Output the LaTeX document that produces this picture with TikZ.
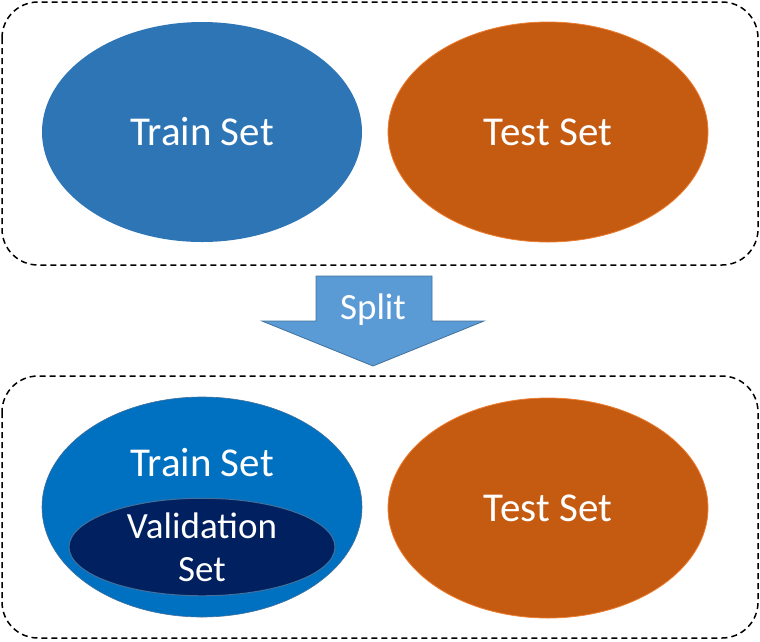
\documentclass[tikz,border=0pt]{standalone}
\usepackage{fontspec}
\setmainfont{Carlito}
\usepackage{tikz}
\usetikzlibrary{shapes.geometric}
\definecolor{trainblue}{HTML}{2E75B6}
\definecolor{trainbright}{HTML}{0070C0}
\definecolor{testorange}{HTML}{C55A11}
\definecolor{testedge}{HTML}{ED7D31}
\definecolor{valnavy}{HTML}{002060}
\definecolor{splitfill}{HTML}{5B9BD5}
\definecolor{splitedge}{HTML}{41719C}

\tikzset{
  setshape/.style={ellipse, inner sep=0pt, minimum width=320pt, minimum height=220pt,
    text=white, font=\fontsize{41}{47}\selectfont},
  groupbox/.style={draw, line width=1.5pt, dash pattern=on 6pt off 4pt, rounded corners=36pt}
}

\begin{document}
\begin{tikzpicture}[x=1pt,y=-1pt]
  \useasboundingbox (0,0) rectangle (760,641);
  % dashed group boxes
  \draw[groupbox] (2,2) rectangle (758,265);
  \draw[groupbox] (2,376) rectangle (758,638);
  % before split
  \node[setshape, fill=trainblue] (train1) at (202,132) {Train Set};
  \node[setshape, fill=testorange, draw=testedge, line width=0.8pt] (test1) at (548,132) {Test Set};
  % split arrow
  \coordinate (S1) at (316,276);
  \coordinate (S2) at (432,276);
  \coordinate (S3) at (432,321);
  \coordinate (S4) at (484,321);
  \coordinate (S5) at (373,366);
  \coordinate (S6) at (262,321);
  \coordinate (S7) at (316,321);
  \draw[fill=splitfill, draw=splitedge, line width=0.8pt] (S1)--(S2)--(S3)--(S4)--(S5)--(S6)--(S7)--cycle;
  \node[text=white, font=\fontsize{37}{42}\selectfont] (split) at (373,310) {Split};
  % after split
  \node[setshape, fill=trainbright, draw=splitedge, line width=0.6pt] (train2) at (202,507) {};
  \node[text=white, font=\fontsize{41}{47}\selectfont] (trainlbl) at (202,463) {Train Set};
  \node[ellipse, inner sep=0pt, minimum width=266pt, minimum height=97pt,
    fill=valnavy, draw=splitedge, line width=1pt, text=white, align=center,
    font=\fontsize{37}{43}\selectfont] (val) at (202,547) {Validation\\Set};
  \node[setshape, fill=testorange, draw=testedge, line width=0.8pt] (test2) at (548,508) {Test Set};
\end{tikzpicture}
\end{document}
